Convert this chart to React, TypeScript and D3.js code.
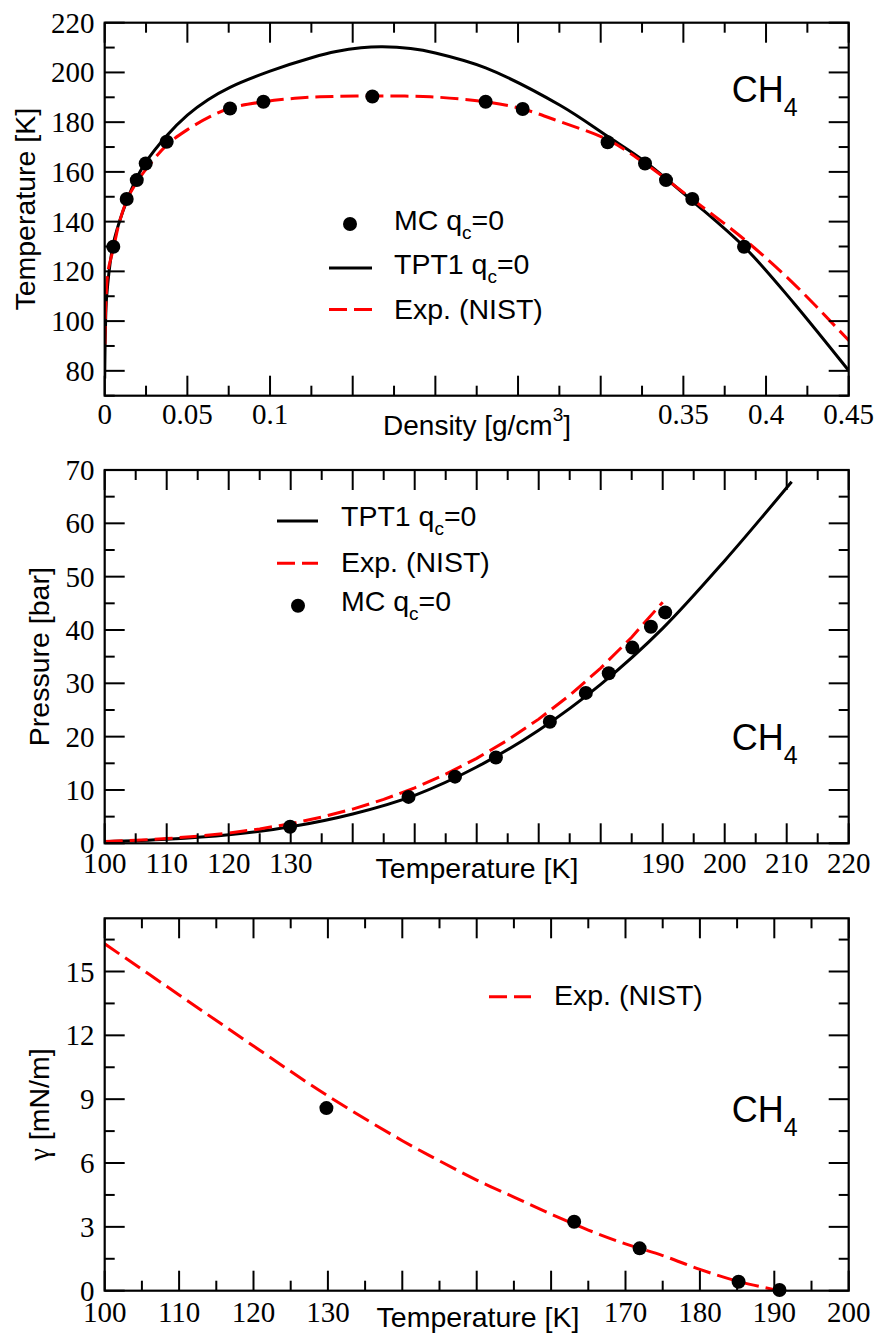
import React from 'react';
import * as d3 from 'd3';

const W = 877;
const H = 1333;
const SERIF = "'Liberation Serif', 'Times New Roman', serif";
const SANS = "'Liberation Sans', Arial, Helvetica, sans-serif";
const RED = '#ff0000';

// ---------- Panel 1: coexistence curve (density vs temperature) ----------
const mcRho = [0.0052, 0.0133, 0.0194, 0.0248, 0.0375, 0.0758, 0.096, 0.1619, 0.2304, 0.2528, 0.3042, 0.3268, 0.3395, 0.3554, 0.3867];
const mcRhoT = [129.9, 149.1, 156.7, 163.4, 172.1, 185.5, 188.2, 190.3, 188.2, 185.3, 171.9, 163.4, 156.7, 149.1, 129.9];
const tptRho = [0.0, 0.0004, 0.0012, 0.0052, 0.0113, 0.0173, 0.0244, 0.0375, 0.05, 0.0625, 0.0758, 0.1, 0.1256, 0.14, 0.155, 0.168, 0.185, 0.2, 0.2304, 0.2754, 0.3046, 0.3268, 0.356, 0.3873, 0.4165, 0.4498, 0.452];
const tptRhoT = [76.9, 95, 110, 131, 144.7, 154.7, 163.4, 174.5, 182.8, 189.0, 194.0, 200.5, 206.0, 208.4, 209.9, 210.3, 209.6, 207.8, 201.8, 186.8, 174.1, 164.1, 148.0, 129.5, 107.5, 80.3, 78.5];
const nistRho = [0.0001, 0.00035, 0.0009, 0.002, 0.0052, 0.009, 0.0143, 0.0203, 0.0254, 0.0375, 0.0496, 0.0637, 0.0758, 0.0959, 0.115, 0.1302, 0.1627, 0.197, 0.2304, 0.2528, 0.2754, 0.3046, 0.3268, 0.356, 0.3873, 0.4165, 0.4498, 0.4523];
const nistRhoT = [90.7, 100, 110, 120, 129, 140, 150, 156.7, 161.4, 170.8, 176.8, 182.2, 185.6, 188.2, 189.6, 190.2, 190.5, 190.2, 188.2, 185.3, 180.2, 172.8, 163.4, 148.7, 132.6, 115.2, 92.4, 90.7];
const rhoLabels = [0, 0.05, 0.1, 0.35, 0.4, 0.45];
const tLabelsTop = [80, 100, 120, 140, 160, 180, 200, 220];

// ---------- Panel 2: vapour pressure ----------
const mcPT = [129.9, 149.0, 156.5, 163.1, 171.8, 177.6, 181.3, 185.1, 188.1, 190.4];
const mcP = [3.1, 8.7, 12.5, 16.1, 22.8, 28.2, 31.9, 36.7, 40.6, 43.3];
const tptPT = [100, 110, 120, 130, 140, 150, 160, 170, 180, 190, 200, 210.8];
const tptP = [0.3, 0.75, 1.6, 3.1, 5.5, 9.0, 14.3, 21.2, 29.8, 40.3, 53.0, 67.8];
const nistPT = [100, 105, 110, 115, 120, 125, 130, 135, 140, 145, 150, 155, 160, 165, 170, 175, 180, 185, 190];
const nistP = [0.344, 0.567, 0.884, 1.326, 1.918, 2.695, 3.681, 4.909, 6.412, 8.222, 10.40, 12.96, 15.92, 19.35, 23.28, 27.76, 32.86, 38.64, 45.22];
const tLabelsMid = [100, 110, 120, 130, 190, 200, 210, 220];
const pLabels = [0, 10, 20, 30, 40, 50, 60, 70];

// ---------- Panel 3: surface tension ----------
const mcGT = [129.8, 163.1, 171.9, 185.2, 190.7];
const mcG = [8.58, 3.24, 1.99, 0.42, 0.03];
const nistGT = [100, 110, 120, 130, 140, 145, 150, 155, 160, 165, 170, 175, 180, 185, 190];
const nistG = [16.3, 13.9, 11.5, 9.15, 7.05, 6.1, 5.2, 4.4, 3.6, 2.85, 2.2, 1.65, 1.0, 0.45, 0.05];
const tLabelsBot = [100, 110, 120, 130, 170, 180, 190, 200];
const gLabels = [0, 3, 6, 9, 12, 15];

const LEFT = 104.7;
const RIGHT = 848.7;
const TICK_FS = 29;

function multiples(lo: number, hi: number, step: number) {
  const out: number[] = [];
  const start = Math.ceil(lo / step - 1e-9);
  for (let i = start; i * step <= hi + 1e-9; i++) out.push(+(i * step).toFixed(6));
  return out;
}
const isMul = (v: number, s: number) => Math.abs(v / s - Math.round(v / s)) < 1e-6;

type AxisCfg = {
  x: d3.ScaleLinear<number, number>;
  y: d3.ScaleLinear<number, number>;
  xMinor: number; xMajor: number; yMinor: number; yMajor: number;
  xLabels: number[]; yLabels: number[]; xLabelDy: number;
};

function Frame({ x, y, xMinor, xMajor, yMinor, yMajor, xLabels, yLabels, xLabelDy }: AxisCfg) {
  const [x0, x1] = x.range();
  const [yb, yt] = y.range();
  const xd = x.domain();
  const yd = y.domain();
  const xt = multiples(xd[0], xd[1], xMinor);
  const ytk = multiples(yd[0], yd[1], yMinor);
  const big = 20, small = 10;
  return (
    <g>
      {xt.map((v, i) => {
        const L = isMul(v, xMajor) ? big : small;
        const px = x(v);
        return (
          <g key={'xt' + i}>
            <line x1={px} x2={px} y1={yb} y2={yb - L} stroke="#000" strokeWidth={2} />
            <line x1={px} x2={px} y1={yt} y2={yt + L} stroke="#000" strokeWidth={2} />
          </g>
        );
      })}
      {ytk.map((v, i) => {
        const L = isMul(v, yMajor) ? big : small;
        const py = y(v);
        return (
          <g key={'yt' + i}>
            <line x1={x0} x2={x0 + L} y1={py} y2={py} stroke="#000" strokeWidth={2} />
            <line x1={x1} x2={x1 - L} y1={py} y2={py} stroke="#000" strokeWidth={2} />
          </g>
        );
      })}
      <rect x={x0} y={yt} width={x1 - x0} height={yb - yt} fill="none" stroke="#000" strokeWidth={2.2} />
      {xLabels.map((v, i) => (
        <text key={'xl' + i} x={x(v)} y={yb + xLabelDy} textAnchor="middle" fontFamily={SERIF} fontSize={TICK_FS}>{String(v)}</text>
      ))}
      {yLabels.map((v, i) => (
        <text key={'yl' + i} x={94.5} y={y(v) + 10} textAnchor="end" fontFamily={SERIF} fontSize={TICK_FS}>{String(v)}</text>
      ))}
    </g>
  );
}

function Dots({ xs, ys, x, y }: { xs: number[]; ys: number[]; x: any; y: any }) {
  return (
    <g>
      {xs.map((v, i) => (
        <circle key={i} cx={x(v)} cy={y(ys[i])} r={7} fill="#000" />
      ))}
    </g>
  );
}

function Sub({ base }: { base: string }) {
  return (
    <>
      {base} q<tspan fontSize={19} dy={9}>c</tspan><tspan dy={-9}>=0</tspan>
    </>
  );
}

function CH4({ x, y }: { x: number; y: number }) {
  return (
    <text x={x} y={y} fontFamily={SANS} fontSize={36}>
      CH<tspan fontSize={25} dy={14}>4</tspan>
    </text>
  );
}

export default function App() {
  const x1 = d3.scaleLinear().domain([0, 0.45]).range([LEFT, RIGHT]);
  const y1 = d3.scaleLinear().domain([70, 220]).range([395.7, 22.7]);
  const mkLine = (xs: number[], ys: number[], x: any, y: any, curve: any) =>
    d3.line<number>().x((d) => x(d)).y((_, i) => y(ys[i])).curve(curve)(xs) || '';
  const cr = d3.curveCatmullRom.alpha(0.5);

  const x2 = d3.scaleLinear().domain([100, 220]).range([LEFT, RIGHT]);
  const y2 = d3.scaleLinear().domain([0, 70]).range([843.3, 470]);

  const x3 = d3.scaleLinear().domain([100, 200]).range([LEFT, RIGHT]);
  const y3 = d3.scaleLinear().domain([0, 17.5]).range([1290.7, 918.3]);

  const dash = '18,7';

  return (
    <svg width={W} height={H} style={{ position: 'absolute', left: 0, top: 0, background: '#fff' }}>
      <defs>
        <clipPath id="c1"><rect x={LEFT} y={22.7} width={RIGHT - LEFT} height={373} /></clipPath>
        <clipPath id="c2"><rect x={LEFT} y={470} width={RIGHT - LEFT} height={373.3} /></clipPath>
        <clipPath id="c3"><rect x={LEFT} y={918.3} width={RIGHT - LEFT} height={372.4} /></clipPath>
      </defs>
      <rect width={W} height={H} fill="#fff" />

      {/* ---------------- Panel 1 ---------------- */}
      <g clipPath="url(#c1)">
        <path d={mkLine(tptRho, tptRhoT, x1, y1, cr)} fill="none" stroke="#000" strokeWidth={3} />
        <path d={mkLine(nistRho, nistRhoT, x1, y1, cr)} fill="none" stroke={RED} strokeWidth={3} strokeDasharray={dash} />
      </g>
      <Dots xs={mcRho} ys={mcRhoT} x={x1} y={y1} />
      <Frame x={x1} y={y1} xMinor={0.025} xMajor={0.05} yMinor={10} yMajor={20} xLabels={rhoLabels} yLabels={tLabelsTop} xLabelDy={28.5} />
      <text x={477} y={435} textAnchor="middle" fontFamily={SANS} fontSize={28}>
        Density [g/cm<tspan fontSize={19} dy={-14}>3</tspan><tspan dy={14}>]</tspan>
      </text>
      <text transform={`translate(35,${(22.7 + 395.7) / 2}) rotate(-90)`} textAnchor="middle" fontFamily={SANS} fontSize={28.5}>Temperature [K]</text>
      <CH4 x={731.7} y={101.7} />
      <circle cx={350} cy={224} r={7} fill="#000" />
      <text x={394} y={230} fontFamily={SANS} fontSize={28.5}><Sub base="MC" /></text>
      <line x1={329} x2={372} y1={268} y2={268} stroke="#000" strokeWidth={3} />
      <text x={394} y={273.5} fontFamily={SANS} fontSize={28.5}><Sub base="TPT1" /></text>
      <line x1={329} x2={372} y1={309.5} y2={309.5} stroke={RED} strokeWidth={3} strokeDasharray={dash} />
      <text x={394} y={318.5} fontFamily={SANS} fontSize={28.5}>Exp. (NIST)</text>

      {/* ---------------- Panel 2 ---------------- */}
      <g clipPath="url(#c2)">
        <path d={mkLine(tptPT, tptP, x2, y2, d3.curveMonotoneX)} fill="none" stroke="#000" strokeWidth={3} />
        <path d={mkLine(nistPT, nistP, x2, y2, d3.curveLinear)} fill="none" stroke={RED} strokeWidth={3} strokeDasharray={dash} />
      </g>
      <Dots xs={mcPT} ys={mcP} x={x2} y={y2} />
      <Frame x={x2} y={y2} xMinor={5} xMajor={10} yMinor={5} yMajor={10} xLabels={tLabelsMid} yLabels={pLabels} xLabelDy={30} />
      <text x={477} y={878} textAnchor="middle" fontFamily={SANS} fontSize={28.5}>Temperature [K]</text>
      <text transform={`translate(48.5,${(470 + 843.3) / 2}) rotate(-90)`} textAnchor="middle" fontFamily={SANS} fontSize={28.5}>Pressure [bar]</text>
      <CH4 x={731.7} y={750} />
      <line x1={277} x2={318} y1={521} y2={521} stroke="#000" strokeWidth={3} />
      <text x={341} y={526} fontFamily={SANS} fontSize={28.5}><Sub base="TPT1" /></text>
      <line x1={277} x2={318} y1={563.3} y2={563.3} stroke={RED} strokeWidth={3} strokeDasharray={dash} />
      <text x={341} y={571.7} fontFamily={SANS} fontSize={28.5}>Exp. (NIST)</text>
      <circle cx={298} cy={605.7} r={7} fill="#000" />
      <text x={341} y={611} fontFamily={SANS} fontSize={28.5}><Sub base="MC" /></text>

      {/* ---------------- Panel 3 ---------------- */}
      <g clipPath="url(#c3)">
        <path d={mkLine(nistGT, nistG, x3, y3, cr)} fill="none" stroke={RED} strokeWidth={3} strokeDasharray={dash} />
      </g>
      <Dots xs={mcGT} ys={mcG} x={x3} y={y3} />
      <Frame x={x3} y={y3} xMinor={5} xMajor={10} yMinor={1.5} yMajor={3} xLabels={tLabelsBot} yLabels={gLabels} xLabelDy={31} />
      <text x={478} y={1326.7} textAnchor="middle" fontFamily={SANS} fontSize={28.5}>Temperature [K]</text>
      <text transform={`translate(49,${(918.3 + 1290.7) / 2}) rotate(-90)`} textAnchor="middle" fontFamily={SANS} fontSize={28.5}>
        <tspan fontFamily={SERIF}>γ</tspan> [mN/m]
      </text>
      <CH4 x={731.7} y={1121.7} />
      <line x1={489} x2={531} y1={996.7} y2={996.7} stroke={RED} strokeWidth={3} strokeDasharray={dash} />
      <text x={554} y={1005} fontFamily={SANS} fontSize={28.5}>Exp. (NIST)</text>
    </svg>
  );
}
